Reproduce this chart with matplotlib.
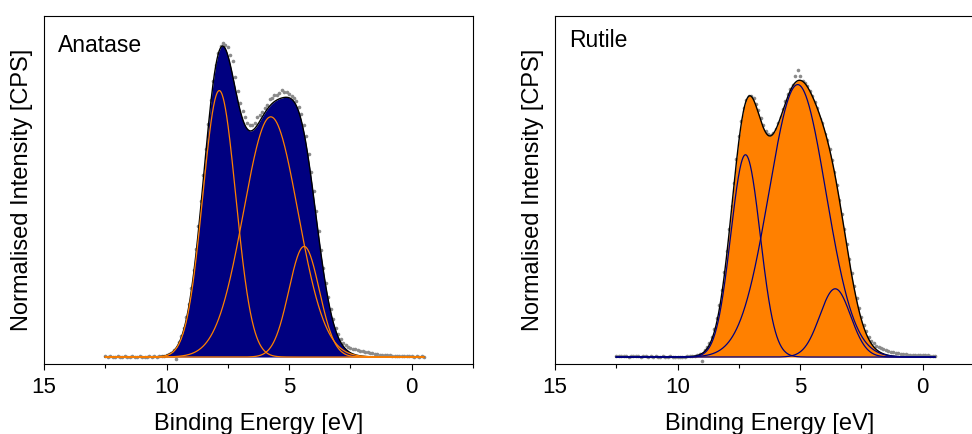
import numpy as np
import matplotlib.pyplot as plt

plt.rcParams['font.family'] = ['Liberation Sans', 'DejaVu Sans']

# binding energy grid of the measured valence band spectra (eV)
be = np.round(np.arange(12.5, -0.55, -0.1), 1)

# normalised counts, 12.5 eV -> -0.5 eV
anatase_counts = [
    0.002, 0.001, 0.002, 0.000, 0.001, 0.002, 0.001, 0.000, 0.002, 0.001,
    0.001, 0.002, 0.000, 0.001, 0.002, 0.001, 0.000, 0.001, 0.002, 0.001,
    0.002, 0.001, 0.003, 0.002, 0.004,
    0.006, 0.010, 0.014, 0.021, -0.006, 0.047, 0.067, 0.093, 0.126, 0.167,
    0.218, 0.276, 0.343, 0.415, 0.494, 0.576, 0.659, 0.738, 0.812, 0.872,
    0.925, 0.962, 0.985, 0.993, 0.988, 0.982, 0.956, 0.936, 0.887, 0.842,
    0.805, 0.778, 0.758, 0.742, 0.733, 0.733, 0.742, 0.758, 0.765, 0.776,
    0.787, 0.798, 0.815, 0.818, 0.828, 0.830, 0.836, 0.845, 0.840, 0.838,
    0.833, 0.826, 0.820, 0.810, 0.792, 0.768, 0.733, 0.700, 0.641, 0.585,
    0.526, 0.462, 0.400, 0.340, 0.283, 0.233, 0.189, 0.151, 0.119, 0.093,
    0.073, 0.057, 0.046, 0.038, 0.033, 0.030, 0.027, 0.025, 0.022, 0.020,
    0.018,
    0.016, 0.015, 0.013, 0.012, 0.010, 0.009, 0.008, 0.007, 0.006, 0.005,
    0.005, 0.004, 0.004, 0.003, 0.004, 0.003, 0.002, 0.003, 0.002, 0.002,
    0.001, 0.002, 0.001, 0.002, 0.001,
]

rutile_counts = [
    0.003, 0.002, 0.002, 0.003, 0.002, 0.001, 0.002, 0.003, 0.002, 0.002,
    0.001, 0.002, 0.002, 0.001, 0.002, 0.001, 0.002, 0.001, 0.001, 0.002,
    0.001, 0.001, 0.002, 0.001, 0.001,
    0.001, 0.000, 0.001, 0.001, 0.002, 0.002, 0.003, 0.004, 0.006, 0.009,
    -0.011, 0.021, 0.031, 0.045, 0.064, 0.090, 0.123, 0.164, 0.213, 0.270,
    0.334, 0.404, 0.478, 0.552, 0.625, 0.700, 0.746, 0.788, 0.813, 0.827,
    0.827, 0.818, 0.802, 0.782, 0.757, 0.734, 0.716, 0.706, 0.703, 0.708,
    0.723, 0.741, 0.761, 0.786, 0.810, 0.833, 0.849, 0.862, 0.889, 0.907,
    0.889, 0.873, 0.866, 0.856, 0.842, 0.826, 0.807, 0.787, 0.752, 0.742,
    0.706, 0.688, 0.657, 0.622, 0.585, 0.543, 0.498, 0.452, 0.404, 0.357,
    0.310, 0.266, 0.225, 0.188, 0.155, 0.126, 0.101, 0.081, 0.065, 0.052,
    0.043,
    0.036, 0.032, 0.028, 0.025, 0.022, 0.019, 0.017, 0.015, 0.013, 0.012,
    0.011, 0.010, 0.009, 0.008, 0.008, 0.007, 0.007, 0.006, 0.006, 0.005,
    0.005, 0.005, 0.004, 0.004, 0.004,
]

# fitted components: centre (eV), height, FWHM on high-BE side, FWHM on low-BE side
anatase_centres = [7.85, 5.75, 4.39]
anatase_heights = [0.843, 0.760, 0.350]
anatase_fwhm_hi = [1.58, 2.61, 1.46]
anatase_fwhm_lo = [1.58, 2.61, 1.46]

rutile_centres = [7.23, 5.10, 3.57]
rutile_heights = [0.640, 0.862, 0.216]
rutile_fwhm_hi = [1.41, 2.755, 1.48]
rutile_fwhm_lo = [1.41, 2.71, 1.48]

NAVY = '#000080'
ORANGE = '#ff8000'


def component(x, c, h, w_hi, w_lo):
    w = np.where(x > c, w_hi, w_lo)
    return h * np.exp(-4 * np.log(2) * (x - c) ** 2 / w ** 2)


def draw_panel(ax, counts, centres, heights, w_hi, w_lo, fill_col, line_col, name, text_y):
    x = np.linspace(12.5, -0.5, 1301)
    comps = [component(x, c, h, a, b) for c, h, a, b in zip(centres, heights, w_hi, w_lo)]
    env = np.sum(comps, axis=0)

    ax.plot(be, counts, 'o', color='#8a8a8a', ms=2.6, mec='none', zorder=1)
    ax.fill_between(x, 0, env, color=fill_col, lw=0, zorder=2)
    ax.plot(x, env, color='black', lw=1.0, zorder=3)
    for comp in comps:
        ax.plot(x, comp, color=line_col, lw=0.9, zorder=4)

    ax.set_xlim(15, -2.5)
    ax.set_ylim(-0.022, 1.079)
    ax.set_xticks([15, 10, 5, 0])
    ax.set_xticks([12.5, 7.5, 2.5, -2.5], minor=True)
    ax.set_yticks([])
    ax.tick_params(axis='x', which='major', length=4.5, width=0.8, pad=5, labelsize=16)
    ax.tick_params(axis='x', which='minor', length=3, width=0.8)
    for sp in ax.spines.values():
        sp.set_linewidth(0.8)
    ax.set_xlabel('Binding Energy [eV]', fontsize=17, labelpad=11)
    ax.set_ylabel('Normalised Intensity [CPS]', fontsize=17, labelpad=8)
    ax.text(0.033, text_y, name, transform=ax.transAxes, fontsize=16.5, va='baseline')


fig = plt.figure(figsize=(9.72, 4.34), dpi=100)
ax1 = fig.add_axes([44 / 972, 70 / 434, 429 / 972, 348 / 434])
ax2 = fig.add_axes([555 / 972, 70 / 434, 429 / 972, 348 / 434])

draw_panel(ax1, anatase_counts, anatase_centres, anatase_heights,
           anatase_fwhm_hi, anatase_fwhm_lo, NAVY, ORANGE, 'Anatase', 0.897)
draw_panel(ax2, rutile_counts, rutile_centres, rutile_heights,
           rutile_fwhm_hi, rutile_fwhm_lo, ORANGE, NAVY, 'Rutile', 0.91)

fig.savefig('out.png', dpi=100)
